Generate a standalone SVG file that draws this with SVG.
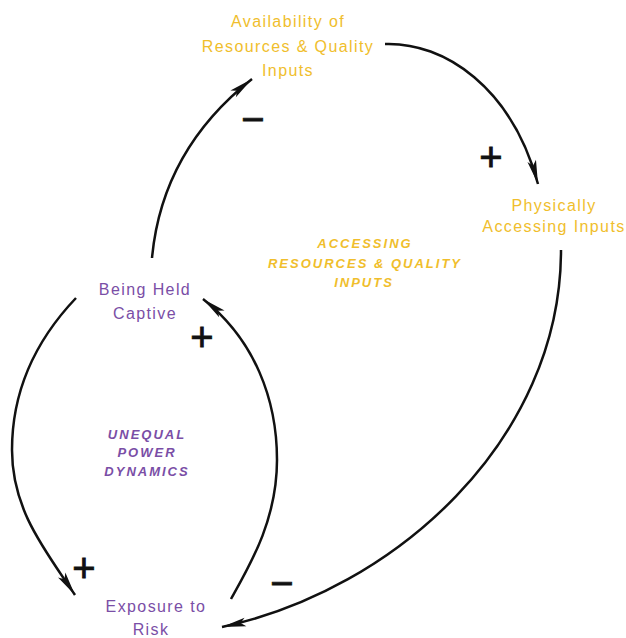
<svg xmlns="http://www.w3.org/2000/svg" width="626" height="638" viewBox="0 0 626 638">
  <defs>
    <marker id="arrow" markerUnits="userSpaceOnUse" markerWidth="26" markerHeight="10" refX="24" refY="5" orient="auto" overflow="visible">
      <path d="M0,0.6 L24,5 L0,9.4 L5,5 Z" fill="#111"/>
    </marker>
    <style>
      .var { font-family: "Liberation Sans", Arial, sans-serif; font-size: 16px; letter-spacing: 1.4px; text-anchor: middle; }
      .loop { font-family: "Liberation Sans", Arial, sans-serif; font-size: 13px; font-weight: bold; font-style: italic; letter-spacing: 2px; text-anchor: middle; }
      .res { fill: #F0BE2C; }
      .pow { fill: #7A4EA6; }
      .link { fill: none; stroke: #111; stroke-width: 2.5; marker-end: url(#arrow); }
      .pol { font-family: "Liberation Sans", Arial, sans-serif; font-size: 40px; text-anchor: middle; fill: #111; stroke: #111; stroke-width: 0.8; }
    </style>
  </defs>

  <rect width="626" height="638" fill="#fff"/>

  <!-- causal links -->
  <g id="connectors">
    <path id="captive-availability" class="link" d="M152,258 Q162,150 252,79"/>
    <path id="availability-physically" class="link" d="M385,44 C445,42 512,88 538,184"/>
    <path id="physically-exposure" class="link" d="M561,250 C561,440 395,590 222,627"/>
    <path id="exposure-captive" class="link" d="M231,599 C250,565 277,520 277,460 C277,400 255,340 203,299"/>
    <path id="captive-exposure" class="link" d="M76,298 C36,340 12,390 12,450 C12,510 45,550 75,595"/>
  </g>

  <!-- link polarities -->
  <g id="polarities">
    <text class="pol" x="253" y="132.5">−</text>
    <text class="pol" x="491" y="171">+</text>
    <text class="pol" x="202" y="351">+</text>
    <text class="pol" x="84" y="581.5">+</text>
    <text class="pol" x="282" y="596.5">−</text>
  </g>

  <!-- variables -->
  <g id="availability">
    <text class="var res" x="288" y="27">Availability of</text>
    <text class="var res" x="288" y="52">Resources &amp; Quality</text>
    <text class="var res" x="288" y="76">Inputs</text>
  </g>
  <g id="physically">
    <text class="var res" x="554" y="211">Physically</text>
    <text class="var res" x="554" y="232">Accessing Inputs</text>
  </g>
  <g id="captive">
    <text class="var pow" x="145" y="295">Being Held</text>
    <text class="var pow" x="145" y="319">Captive</text>
  </g>
  <g id="exposure">
    <text class="var pow" x="156" y="612">Exposure to</text>
    <text class="var pow" x="151" y="635">Risk</text>
  </g>

  <!-- loop names -->
  <g id="loop-accessing">
    <text class="loop res" x="365" y="248">ACCESSING</text>
    <text class="loop res" x="365" y="268">RESOURCES &amp; QUALITY</text>
    <text class="loop res" x="364" y="287">INPUTS</text>
  </g>
  <g id="loop-power">
    <text class="loop pow" x="147" y="439">UNEQUAL</text>
    <text class="loop pow" x="147" y="457">POWER</text>
    <text class="loop pow" x="147" y="476">DYNAMICS</text>
  </g>
</svg>
